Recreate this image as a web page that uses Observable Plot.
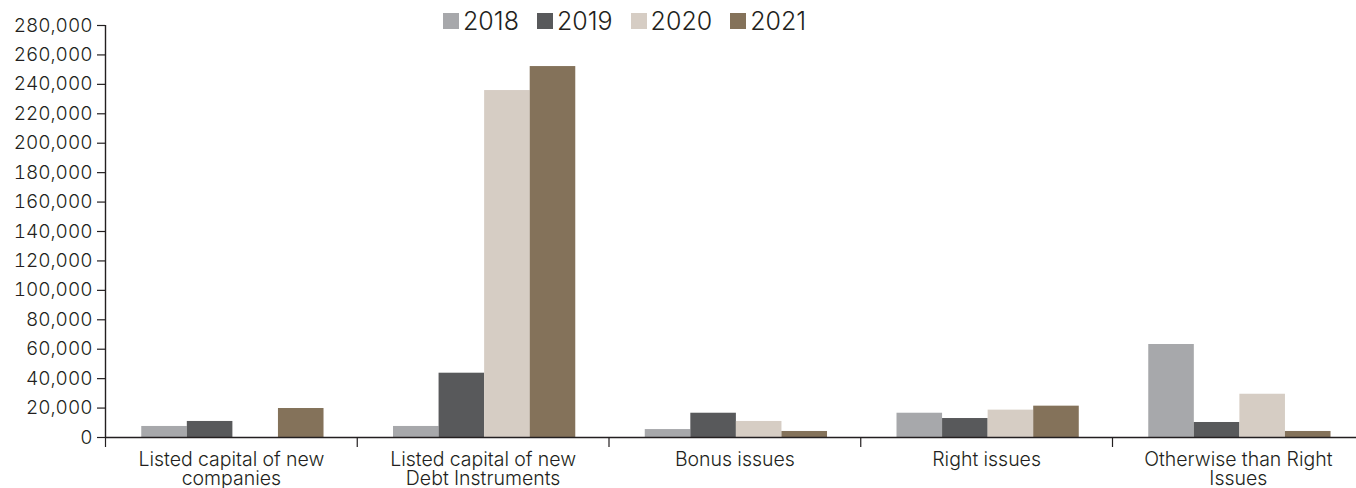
<!DOCTYPE html>
<html>
<head>
<meta charset="utf-8">
<script src="https://cdn.jsdelivr.net/npm/d3@7"></script>
<script src="https://cdn.jsdelivr.net/npm/@observablehq/plot@0.6"></script>
<style>
  html, body { margin: 0; padding: 0; background: #fff; }
  #wrap { position: relative; width: 1356px; height: 488px; overflow: hidden; font-family: Inter, sans-serif; color: #231f20; }
  #legend { position: absolute; top: 6px; left: 443px; display: flex; align-items: center; font-size: 25px; line-height: 30px; }
  #legend .item { display: flex; align-items: center; margin-right: 18px; }
  #legend .sw { width: 16px; height: 16px; margin-right: 4px; }
</style>
</head>
<body>
<div id="wrap"><div id="legend"></div></div>
<script>
const categories = ["Listed capital of new companies", "Listed capital of new Debt Instruments", "Bonus issues", "Right issues", "Otherwise than Right Issues"];
const categoryLabels = ["Listed capital of new\ncompanies", "Listed capital of new\nDebt Instruments", "Bonus issues", "Right issues", "Otherwise than Right\nIssues"];
const years = ["2018", "2019", "2020", "2021"];
const colors = ["#a7a8ab", "#58595b", "#d6cdc4", "#84725a"];
const v2018 = [7500, 7500, 5400, 16500, 63200];
const v2019 = [10900, 43700, 16500, 12900, 10200];
const v2020 = [0, 235800, 10900, 18600, 29400];
const v2021 = [19700, 252100, 4100, 21300, 4100];
const yTicks = [0, 20000, 40000, 60000, 80000, 100000, 120000, 140000, 160000, 180000, 200000, 220000, 240000, 260000, 280000];

const series = [v2018, v2019, v2020, v2021];
const rows = categories.flatMap((c, ci) => years.map((y, yi) => ({category: c, ci, year: y, yi, value: series[yi][ci]})));
const boundaries = categories.map((_, i) => i - 0.5).concat([categories.length - 0.5]);
const centers = categories.map((_, i) => i);
const BW = 0.181; // bar width as fraction of a category band

const ink = "#231f20";
const chart = Plot.plot({
  width: 1356,
  height: 488,
  marginTop: 25,
  marginBottom: 51,
  marginLeft: 105,
  marginRight: 0,
  style: {fontFamily: "Inter, sans-serif", color: ink, background: "transparent"},
  x: {domain: [-0.5, 4.5], range: [105, 1363.75]},
  y: {domain: [0, 280000]},
  color: {domain: years, range: colors},
  marks: [
    Plot.rectY(rows, {
      x1: d => d.ci + 0.006 + (d.yi - 2) * BW,
      x2: d => d.ci + 0.006 + (d.yi - 1) * BW,
      y1: 0,
      y2: "value",
      fill: "year"
    }),
    Plot.ruleY([0], {stroke: ink, strokeWidth: 1.4}),
    Plot.ruleX([-0.5], {y1: 0, y2: 280000, stroke: ink, strokeWidth: 1.4}),
    Plot.axisY({ticks: yTicks, tickFormat: d3.format(","), tickSize: 8, tickPadding: 5, fontSize: 19, fontWeight: 300, stroke: ink, strokeWidth: 1.2, label: null}),
    Plot.axisX({ticks: boundaries, tickSize: 10, tickFormat: () => "", stroke: ink, strokeWidth: 1.2, label: null}),
    Plot.axisX({ticks: centers, tickSize: 0, tickPadding: 15, tickFormat: i => categoryLabels[i], fontSize: 19.5, fontWeight: 300, lineHeight: 0.97, label: null})
  ]
});
document.getElementById("wrap").appendChild(chart);

const legend = d3.select("#legend");
years.forEach((y, i) => {
  const item = legend.append("div").attr("class", "item");
  item.append("div").attr("class", "sw").style("background", colors[i]);
  item.append("span").style("font-weight", 300).text(y);
});
</script>
</body>
</html>
